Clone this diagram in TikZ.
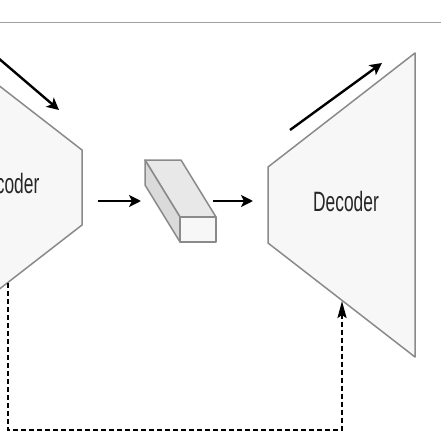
\documentclass[tikz,border=0pt]{standalone}
\usepackage{graphicx}
\usepackage{fontspec}
\setmainfont{Liberation Sans}
\usetikzlibrary{arrows.meta}
\definecolor{shapefill}{HTML}{F7F7F7}
\definecolor{shapeline}{HTML}{8A8A8A}
\definecolor{boxtop}{HTML}{E8E8E8}
\definecolor{boxside}{HTML}{DADADA}
\definecolor{partink}{HTML}{262626}
\begin{document}
\begin{tikzpicture}[x=1pt,y=-1pt,
  part/.style={draw=shapeline,fill=shapefill,line width=1.5pt,line join=round},
  partname/.style={text=partink,inner sep=0pt,anchor=base,font=\fontsize{28}{28}\selectfont},
  flow/.style={-{Stealth[length=12pt,width=12pt,inset=3pt]},line width=2.4pt},
  skipline/.style={-{Stealth[length=17pt,width=9pt,inset=3pt]},line width=2.2pt,dash pattern=on 5pt off 3pt}]
\useasboundingbox (0,0) rectangle (441,441);
\clip (0,0) rectangle (441,441);
\draw[shapeline!80,line width=1pt] (0,23) -- (441,23);
\draw[part] (-65,36) -- (82,150) -- (82,225) -- (-65,339) -- cycle;
\node[partname] (enc) at (7,193) {\scalebox{0.62}[1]{Encoder}};
\draw[part] (268,167) -- (415,53) -- (415,357) -- (268,243) -- cycle;
\node[partname] (dec) at (346,211) {\scalebox{0.62}[1]{Decoder}};
\draw[part,fill=boxtop] (145,160) -- (181,160) -- (216,217) -- (180,217) -- cycle;
\draw[part,fill=boxside] (145,160) -- (180,217) -- (180,242) -- (145,185) -- cycle;
\draw[part] (180,217) rectangle (216,242);
\coordinate (enc out) at (98,201);
\coordinate (code in) at (141,201);
\coordinate (code out) at (213,201);
\coordinate (dec in) at (253,201);
\coordinate (shrink a) at (-10,51);
\coordinate (shrink b) at (59,110);
\coordinate (grow a) at (290,130);
\coordinate (grow b) at (382,63);
\coordinate (skip a) at (8,283);
\coordinate (skip b) at (342,301);
\draw[flow] (enc out) -- (code in);
\draw[flow] (code out) -- (dec in);
\draw[flow] (shrink a) -- (shrink b);
\draw[flow] (grow a) -- (grow b);
\draw[skipline] (skip a) -- ++(0,147) -| (skip b);
\end{tikzpicture}
\end{document}
